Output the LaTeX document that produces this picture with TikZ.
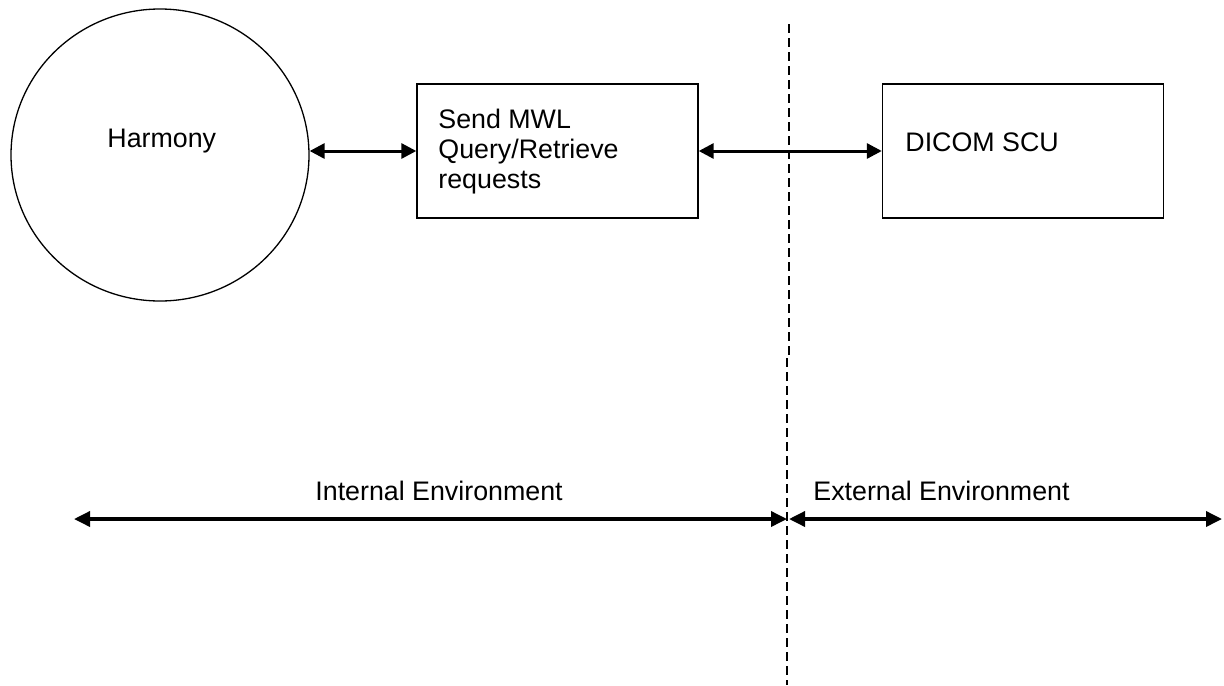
\documentclass[tikz,border=0pt]{standalone}
\usepackage{fontspec}
\setmainfont{Liberation Sans}
\usetikzlibrary{arrows.meta,shapes.geometric}
\begin{document}
\begin{tikzpicture}[x=0.5pt,y=-0.5pt,
  every node/.style={font=\fontsize{13.4}{15}\selectfont},
  lbl/.style={inner sep=0pt,anchor=base west,align=left},
  blk/.style={draw,line width=0.7pt,rectangle,minimum width=140.5pt,minimum height=67pt,inner sep=0pt},
  harm/.style={draw,line width=0.65pt,ellipse,minimum width=149pt,minimum height=146pt,inner sep=0pt},
  conn/.style={line width=1.5pt,{Triangle[length=7.5pt,width=7.5pt]}-{Triangle[length=7.5pt,width=7.5pt]}},
  envarrow/.style={line width=1.75pt,{Triangle[length=8pt,width=7.5pt]}-{Triangle[length=8pt,width=7.5pt]}},
  border/.style={line width=0.65pt,dash pattern=on 4.5pt off 2.5pt}]
\useasboundingbox (0,0) rectangle (1224,685);
\node[harm] (harmony) at (160,155) {};
\node[lbl] (harmonytxt) at (107,147) {Harmony};
\node[blk] (send) at (557.5,151) {};
\node[lbl] (sendtxt) at (438,188) {Send MWL\\Query/Retrieve\\requests};
\node[blk] (dicom) at (1023,151) {};
\node[lbl] (dicomtxt) at (905,151) {DICOM SCU};
\draw[conn] (send.west -| harmony.east) -- (send.west);
\draw[conn] (send.east) -- (dicom.west);
\coordinate (btop) at (789,24);
\coordinate (bmidA) at (789,356);
\coordinate (bmidB) at (787,358);
\coordinate (bbot) at (787,685);
\draw[border] (btop) -- (bmidA);
\draw[border] (bmidB) -- (bbot);
\coordinate (midL) at (787,519);
\coordinate (midR) at (789,519);
\coordinate (leftend) at (74,519);
\coordinate (rightend) at (1222,519);
\draw[envarrow] (leftend) -- (midL);
\draw[envarrow] (midR) -- (rightend);
\node[lbl] (intl) at (315,500) {Internal Environment};
\node[lbl] (extl) at (813,500) {External Environment};
\end{tikzpicture}
\end{document}
